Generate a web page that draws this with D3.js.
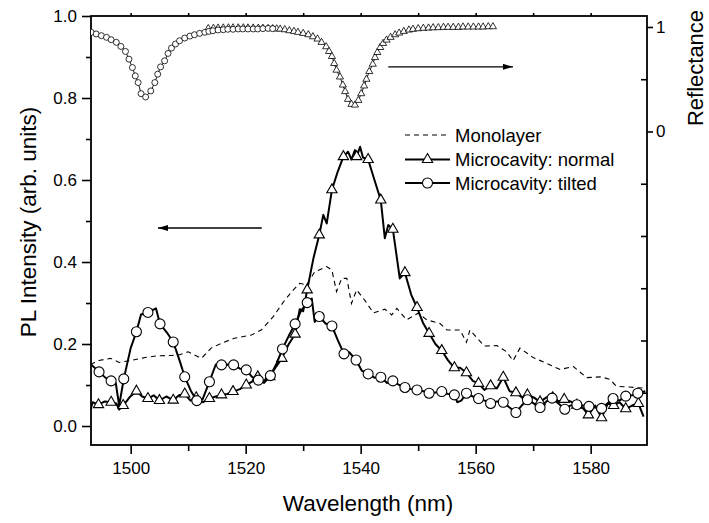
<!DOCTYPE html>
<html><head><meta charset="utf-8">
<script src="https://cdn.jsdelivr.net/npm/d3@7"></script>
<style>body{margin:0;background:#fff}svg{display:block}text{font-family:"Liberation Sans",Arial,sans-serif;fill:#000}</style>
</head><body><svg id="c" width="709" height="523"></svg>
<script>
// ---------------- data ----------------
const xMajor = [1500, 1520, 1540, 1560, 1580];
const xMinor = [1510, 1530, 1550, 1570];
const yMajor = [0.0, 0.2, 0.4, 0.6, 0.8, 1.0];
const yMinor = [0.1, 0.3, 0.5, 0.7, 0.9];
const rLabeled = [0, 1];
const rMinor = [0.5, -0.5, -1, -1.5, -2, -2.5];
const legendLabels = ["Monolayer", "Microcavity: normal", "Microcavity: tilted"];

// Reflectance (right axis), tilted
const reflTilted = [[1493.15,0.949],[1494.0,0.933],[1494.9,0.917],[1495.8,0.901],[1496.6,0.878],[1497.5,0.853],[1498.3,0.814],[1499.1,0.766],[1499.7,0.692],[1500.3,0.612],[1500.8,0.532],[1501.3,0.468],[1501.8,0.362],[1502.6,0.330],[1503.5,0.388],[1504.2,0.468],[1504.7,0.548],[1505.2,0.618],[1505.9,0.676],[1506.5,0.747],[1507.1,0.798],[1507.8,0.837],[1508.5,0.868],[1509.4,0.894],[1510.3,0.913],[1511.1,0.926],[1512.0,0.939],[1512.9,0.949],[1513.6,0.958],[1514.3,0.964],[1515.2,0.971],[1516.1,0.974],[1516.9,0.978],[1517.8,0.978],[1518.7,0.981],[1519.5,0.981],[1520.4,0.981],[1521.3,0.981],[1522.1,0.981],[1523.0,0.984],[1523.9,0.986],[1524.7,0.984]];
// Reflectance (right axis), normal
const reflNormal = [[1513.5,0.985],[1514.4,0.988],[1515.2,0.990],[1516.1,0.991],[1517.0,0.992],[1517.8,0.992],[1518.7,0.992],[1519.6,0.992],[1520.4,0.991],[1521.3,0.990],[1522.2,0.989],[1523.0,0.988],[1523.9,0.986],[1524.7,0.984],[1525.4,0.982],[1526.0,0.980],[1526.8,0.974],[1527.6,0.965],[1528.4,0.958],[1529.1,0.949],[1530.0,0.939],[1530.9,0.926],[1531.7,0.907],[1532.5,0.885],[1533.2,0.853],[1534.0,0.811],[1534.5,0.766],[1535.0,0.718],[1535.4,0.651],[1535.8,0.587],[1536.4,0.522],[1536.9,0.445],[1537.3,0.382],[1537.8,0.308],[1538.4,0.260],[1539.0,0.253],[1539.6,0.298],[1540.1,0.362],[1540.6,0.436],[1541.0,0.500],[1541.5,0.574],[1542.1,0.644],[1542.5,0.708],[1542.9,0.756],[1543.4,0.804],[1543.9,0.843],[1544.5,0.875],[1545.2,0.901],[1546.0,0.926],[1546.7,0.942],[1547.5,0.958],[1548.4,0.971],[1549.1,0.978],[1550.0,0.984],[1550.9,0.988],[1551.8,0.990],[1552.6,0.993],[1553.5,0.994],[1554.4,0.997],[1555.2,0.997],[1556.1,0.997],[1557.0,0.997],[1557.8,1.0],[1558.7,1.0],[1559.6,1.0],[1560.5,1.0],[1561.3,1.0],[1562.2,1.003],[1563.0,1.003]];

// PL monolayer (dashed)
const monolayer = [[1493.0,0.150],[1494.5,0.160],[1496.5,0.165],[1498.0,0.155],[1500.0,0.160],[1502.5,0.167],[1504.5,0.171],[1507.0,0.172],[1508.5,0.174],[1510.0,0.181],[1512.3,0.165],[1514.0,0.190],[1515.8,0.202],[1518.0,0.214],[1521.0,0.222],[1522.7,0.234],[1524.8,0.267],[1526.8,0.307],[1528.3,0.332],[1529.4,0.348],[1530.6,0.344],[1532.0,0.376],[1534.1,0.389],[1535.0,0.380],[1535.8,0.328],[1536.7,0.360],[1537.6,0.360],[1538.4,0.299],[1539.3,0.332],[1540.7,0.307],[1542.2,0.276],[1544.2,0.285],[1545.4,0.271],[1546.3,0.287],[1548.0,0.259],[1550.0,0.275],[1551.5,0.259],[1553.8,0.250],[1555.0,0.234],[1557.3,0.234],[1558.4,0.204],[1559.0,0.234],[1561.5,0.195],[1563.7,0.196],[1565.4,0.181],[1566.5,0.159],[1567.7,0.190],[1570.0,0.167],[1572.3,0.153],[1574.7,0.138],[1577.0,0.145],[1579.3,0.118],[1581.8,0.120],[1583.3,0.114],[1584.5,0.097],[1586.8,0.095],[1589.5,0.092]];

// PL microcavity normal: [wavelength, intensity, marker?]
const normal = [[1492.9,0.035,0],[1493.4,0.058,0],[1494.4,0.052,1],[1495.5,0.060,0],[1496.6,0.058,1],[1497.5,0.055,0],[1498.0,0.040,0],[1498.7,0.050,1],[1499.8,0.070,0],[1501.0,0.085,1],[1502.0,0.072,0],[1503.0,0.067,1],[1504.0,0.075,0],[1505.0,0.062,1],[1506.2,0.072,0],[1507.4,0.063,1],[1508.4,0.075,0],[1509.4,0.078,1],[1510.4,0.062,0],[1511.4,0.069,1],[1512.6,0.058,0],[1513.7,0.067,1],[1514.8,0.072,0],[1515.8,0.076,1],[1516.8,0.078,0],[1517.8,0.084,1],[1519.0,0.090,0],[1520.1,0.100,1],[1521.1,0.108,0],[1522.1,0.120,1],[1523.2,0.108,0],[1524.2,0.120,1],[1525.3,0.145,0],[1526.3,0.165,1],[1527.5,0.200,0],[1528.6,0.224,1],[1529.4,0.285,0],[1530.0,0.280,0],[1530.7,0.332,1],[1531.8,0.410,0],[1532.8,0.466,1],[1533.5,0.515,0],[1534.1,0.494,0],[1535.0,0.576,1],[1536.0,0.620,0],[1537.0,0.657,1],[1537.8,0.669,0],[1538.4,0.650,0],[1539.0,0.673,0],[1539.3,0.657,1],[1539.9,0.681,0],[1540.4,0.655,0],[1541.3,0.650,1],[1542.4,0.600,0],[1543.5,0.551,1],[1544.2,0.458,0],[1544.8,0.490,0],[1545.6,0.480,1],[1546.8,0.360,0],[1547.7,0.374,1],[1548.8,0.320,0],[1549.8,0.289,1],[1550.9,0.250,0],[1551.9,0.226,1],[1553.0,0.200,0],[1554.1,0.184,1],[1555.2,0.160,0],[1556.3,0.142,1],[1557.3,0.142,0],[1558.4,0.130,1],[1559.5,0.110,0],[1560.5,0.104,1],[1561.5,0.088,0],[1562.6,0.098,1],[1563.7,0.092,0],[1564.8,0.119,1],[1565.9,0.085,0],[1567.0,0.081,1],[1568.0,0.070,0],[1569.0,0.076,1],[1570.1,0.070,0],[1571.2,0.059,1],[1572.3,0.070,0],[1573.4,0.069,1],[1574.4,0.060,0],[1575.4,0.065,1],[1576.5,0.060,0],[1577.6,0.051,1],[1578.6,0.045,0],[1579.6,0.027,1],[1580.8,0.050,0],[1581.9,0.020,1],[1583.0,0.055,0],[1584.0,0.050,1],[1585.0,0.058,0],[1586.1,0.042,1],[1587.2,0.050,0],[1588.3,0.055,1],[1589.2,0.023,0]];

// PL microcavity tilted: [wavelength, intensity, marker?]
const tilted = [[1492.9,0.153,0],[1494.5,0.132,1],[1495.6,0.118,0],[1496.6,0.110,1],[1497.4,0.105,0],[1498.0,0.050,0],[1498.8,0.115,1],[1500.0,0.190,0],[1501.0,0.230,1],[1501.8,0.272,0],[1503.0,0.277,1],[1504.4,0.287,0],[1505.1,0.249,1],[1506.3,0.228,0],[1507.4,0.205,1],[1508.5,0.160,0],[1509.4,0.120,1],[1510.5,0.085,0],[1511.5,0.062,1],[1512.5,0.065,0],[1513.7,0.108,1],[1514.8,0.150,0],[1515.8,0.149,1],[1516.8,0.150,0],[1517.9,0.149,1],[1519.0,0.140,0],[1520.1,0.137,1],[1521.1,0.120,0],[1522.2,0.112,1],[1523.2,0.105,0],[1524.3,0.123,1],[1525.3,0.150,0],[1526.4,0.188,1],[1527.5,0.220,0],[1528.6,0.249,1],[1529.6,0.280,0],[1530.7,0.301,1],[1531.5,0.311,0],[1532.0,0.254,0],[1532.8,0.267,1],[1533.9,0.250,0],[1535.0,0.244,1],[1536.0,0.210,0],[1537.1,0.176,1],[1538.0,0.180,0],[1539.2,0.161,1],[1540.2,0.135,0],[1541.3,0.127,1],[1542.4,0.118,0],[1543.5,0.119,1],[1544.6,0.105,0],[1545.6,0.110,1],[1546.7,0.100,0],[1547.7,0.094,1],[1548.8,0.090,0],[1549.8,0.088,1],[1550.9,0.085,0],[1551.9,0.080,1],[1553.0,0.082,0],[1554.1,0.084,1],[1555.2,0.078,0],[1556.3,0.076,1],[1556.8,0.058,0],[1557.5,0.062,0],[1558.4,0.080,1],[1559.5,0.072,0],[1560.5,0.067,1],[1561.6,0.062,0],[1562.6,0.055,1],[1563.7,0.060,0],[1564.8,0.058,1],[1565.9,0.045,0],[1567.0,0.033,1],[1568.0,0.050,0],[1569.0,0.064,1],[1570.1,0.055,0],[1571.2,0.045,1],[1572.3,0.060,0],[1573.3,0.068,1],[1574.4,0.055,0],[1575.5,0.041,1],[1576.5,0.050,0],[1577.6,0.052,1],[1578.6,0.050,0],[1579.7,0.048,1],[1580.8,0.045,0],[1581.9,0.043,1],[1582.9,0.055,0],[1583.9,0.067,1],[1585.0,0.062,0],[1586.1,0.073,1],[1587.2,0.075,0],[1588.2,0.080,1],[1589.5,0.085,0]];

// annotation arrows in data units: [x0, x1, y(left axis)] (head at x1)
const arrowPL = [1522.8, 1504.75, 0.483];
const arrowRefl = [1544.8, 1566.5, 0.876];

// ---------------- drawing ----------------
const FONT = '"Liberation Sans", Arial, sans-serif';
const svg = d3.select('#c');
const m = {l: 91, r: 647, t: 16, b: 445};
const x = d3.scaleLinear().domain([1493.1, 1589.8]).range([m.l, m.r]);
const y = d3.scaleLinear().domain([-0.0463, 1.0]).range([m.b, m.t]);
const yr = d3.scaleLinear().domain([-3.0, 1.105]).range([m.b, m.t]);

svg.append('defs').append('clipPath').attr('id', 'clip')
  .append('rect').attr('x', m.l).attr('y', m.t).attr('width', m.r - m.l).attr('height', m.b - m.t);
svg.select('defs').append('marker').attr('id', 'ah').attr('viewBox', '0 0 10 6')
  .attr('refX', 10).attr('refY', 3).attr('markerWidth', 10).attr('markerHeight', 6)
  .attr('markerUnits', 'userSpaceOnUse').attr('orient', 'auto')
  .append('path').attr('d', 'M0,0L10,3L0,6Z').attr('fill', '#000');

function styleAxis(sel, fs) {
  sel.attr('font-family', FONT).attr('font-size', fs || 17);
  sel.select('.domain').remove();
  sel.selectAll('line').attr('stroke', '#000').attr('stroke-width', 1.6);
  sel.selectAll('text').attr('fill', '#000');
}
// bottom
svg.append('g').attr('transform', `translate(0,${m.b})`)
  .call(d3.axisBottom(x).tickValues(xMajor).tickSize(9).tickPadding(8).tickFormat(d3.format('d'))).call(styleAxis);
svg.append('g').attr('transform', `translate(0,${m.b})`)
  .call(d3.axisBottom(x).tickValues(xMinor).tickSize(6).tickFormat('')).call(styleAxis);
// top
svg.append('g').attr('transform', `translate(0,${m.t})`)
  .call(d3.axisTop(x).tickValues(xMajor.concat(xMinor)).tickSize(3).tickFormat('')).call(styleAxis);
// left
svg.append('g').attr('transform', `translate(${m.l},0)`)
  .call(d3.axisLeft(y).tickValues(yMajor).tickSize(9).tickPadding(5).tickFormat(d3.format('.1f'))).call(styleAxis);
svg.append('g').attr('transform', `translate(${m.l},0)`)
  .call(d3.axisLeft(y).tickValues(yMinor).tickSize(5).tickFormat('')).call(styleAxis);
// right
svg.append('g').attr('transform', `translate(${m.r},0)`)
  .call(d3.axisRight(yr).tickValues(rLabeled).tickSize(6).tickPadding(3).tickFormat(d3.format('d'))).call(styleAxis);
svg.append('g').attr('transform', `translate(${m.r},0)`)
  .call(d3.axisRight(yr).tickValues(rMinor).tickSize(-6).tickFormat('')).call(styleAxis);

// frame
svg.append('rect').attr('x', m.l).attr('y', m.t).attr('width', m.r - m.l).attr('height', m.b - m.t)
  .attr('fill', 'none').attr('stroke', '#000').attr('stroke-width', 1.8);

// axis titles
svg.append('text').attr('x', (m.l + m.r) / 2 - 1).attr('y', 511).attr('text-anchor', 'middle')
  .attr('font-size', 22.5).attr('font-family', FONT).text('Wavelength (nm)');
svg.append('text').attr('transform', 'translate(36,222) rotate(-90)').attr('text-anchor', 'middle')
  .attr('font-size', 22.5).attr('font-family', FONT).text('PL Intensity (arb. units)');
svg.append('text').attr('transform', 'translate(703,68) rotate(-90)').attr('text-anchor', 'middle')
  .attr('font-size', 22).attr('font-family', FONT).text('Reflectance');

const plot = svg.append('g').attr('clip-path', 'url(#clip)');

// reflectance curves
const lineR = d3.line().x(d => x(d[0])).y(d => yr(d[1]));
const triSmall = d3.symbol().type(d3.symbolTriangle).size(22);
const triBig = d3.symbol().type(d3.symbolTriangle).size(46);

plot.append('path').datum(reflNormal).attr('d', lineR).attr('fill', 'none').attr('stroke', '#000').attr('stroke-width', 0.9);
plot.append('g').selectAll('path').data(reflNormal).join('path')
  .attr('transform', d => `translate(${x(d[0])},${yr(d[1])})`).attr('d', triSmall)
  .attr('fill', '#fff').attr('stroke', '#000').attr('stroke-width', 0.8);
plot.append('path').datum(reflTilted).attr('d', lineR).attr('fill', 'none').attr('stroke', '#000').attr('stroke-width', 0.9);
plot.append('g').selectAll('circle').data(reflTilted).join('circle')
  .attr('cx', d => x(d[0])).attr('cy', d => yr(d[1])).attr('r', 3)
  .attr('fill', '#fff').attr('stroke', '#000').attr('stroke-width', 0.8);

// PL curves
const lineL = d3.line().x(d => x(d[0])).y(d => y(d[1]));
plot.append('path').datum(monolayer).attr('d', lineL).attr('fill', 'none')
  .attr('stroke', '#000').attr('stroke-width', 1.1).attr('stroke-dasharray', '5,4');

plot.append('path').datum(normal).attr('d', lineL).attr('fill', 'none')
  .attr('stroke', '#000').attr('stroke-width', 2).attr('stroke-linejoin', 'round');
plot.append('g').selectAll('path').data(normal.filter(d => d[2])).join('path')
  .attr('transform', d => `translate(${x(d[0])},${y(d[1])})`).attr('d', triBig)
  .attr('fill', '#fff').attr('stroke', '#000').attr('stroke-width', 1.1);

plot.append('path').datum(tilted).attr('d', lineL).attr('fill', 'none')
  .attr('stroke', '#000').attr('stroke-width', 2).attr('stroke-linejoin', 'round');
plot.append('g').selectAll('circle').data(tilted.filter(d => d[2])).join('circle')
  .attr('cx', d => x(d[0])).attr('cy', d => y(d[1])).attr('r', 5)
  .attr('fill', '#fff').attr('stroke', '#000').attr('stroke-width', 1.1);

// arrows
[arrowPL, arrowRefl].forEach(a => {
  svg.append('line').attr('x1', x(a[0])).attr('x2', x(a[1])).attr('y1', y(a[2])).attr('y2', y(a[2]))
    .attr('stroke', '#000').attr('stroke-width', 1.3).attr('marker-end', 'url(#ah)');
});

// legend
const lg = svg.append('g').attr('font-family', FONT).attr('font-size', 18.5);
const rows = [135, 159.5, 183];
lg.append('line').attr('x1', 405).attr('x2', 450).attr('y1', rows[0]).attr('y2', rows[0])
  .attr('stroke', '#000').attr('stroke-width', 1.1).attr('stroke-dasharray', '5,4');
lg.append('line').attr('x1', 405).attr('x2', 450).attr('y1', rows[1]).attr('y2', rows[1])
  .attr('stroke', '#000').attr('stroke-width', 2);
lg.append('path').attr('transform', `translate(427.5,${rows[1]})`).attr('d', triBig)
  .attr('fill', '#fff').attr('stroke', '#000').attr('stroke-width', 1.1);
lg.append('line').attr('x1', 405).attr('x2', 450).attr('y1', rows[2]).attr('y2', rows[2])
  .attr('stroke', '#000').attr('stroke-width', 2);
lg.append('circle').attr('cx', 427.5).attr('cy', rows[2]).attr('r', 5)
  .attr('fill', '#fff').attr('stroke', '#000').attr('stroke-width', 1.1);
legendLabels.forEach((t, i) => {
  lg.append('text').attr('x', 455).attr('y', rows[i] + 6.6).text(t);
});
</script>
</body></html>
